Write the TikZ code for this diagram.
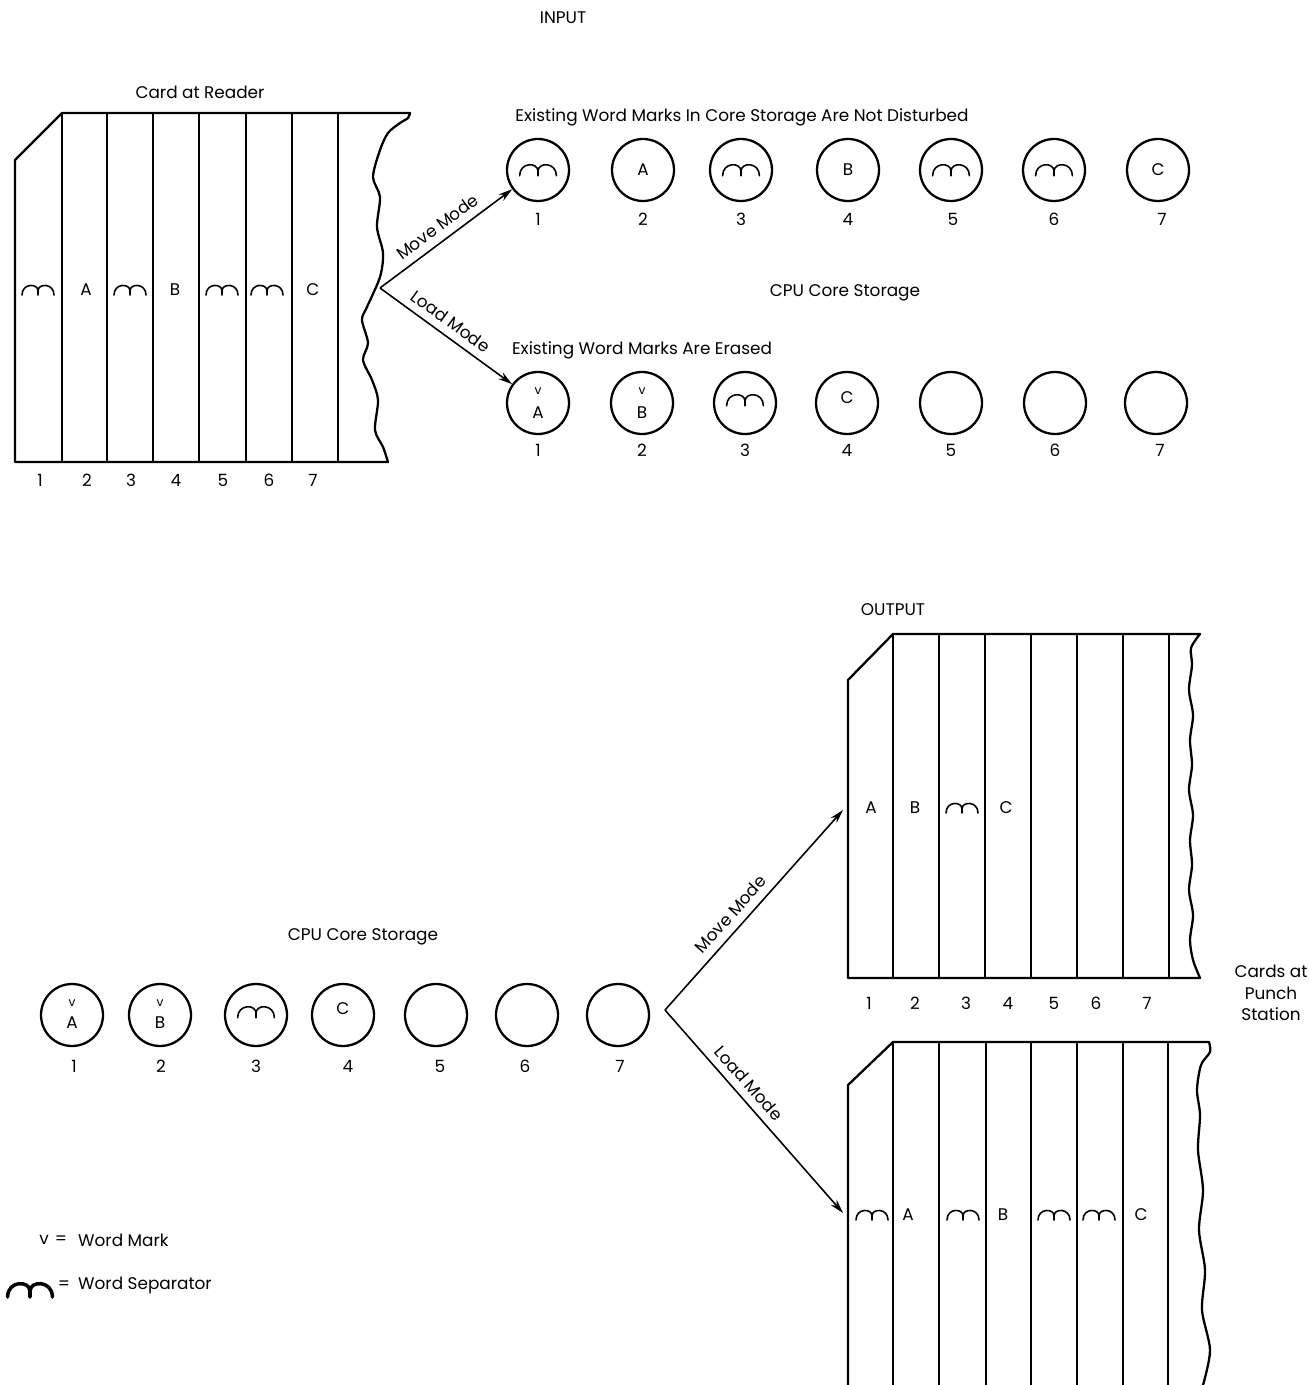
\documentclass[tikz,border=0pt]{standalone}
\usepackage{fontspec}
\setmainfont{Poppins}
\usetikzlibrary{arrows.meta}

\tikzset{
  card/.style={line width=1.3pt,line join=round},
  cell/.style={circle,draw,line width=1.3pt,minimum size=1.24cm,inner sep=0pt},
  flow/.style={line width=0.9pt,-{Stealth[length=8pt,width=4.5pt]}},
  wm/.style={font=\fontsize{7}{7}\selectfont,inner sep=0pt},
  sepline/.style={line width=0.9pt,line cap=round},
  wsep/.pic={\draw[sepline] (-16,5) .. controls (-16,-7) and (0,-7) .. (0,1) -- (0,5) (0,1) .. controls (0,-7) and (16,-7) .. (16,5);}
}

\begin{document}
\begin{tikzpicture}[x=0.02cm,y=-0.02cm,font=\fontsize{9.6}{12.2}\selectfont]
\useasboundingbox (0,0) rectangle (1309,1385);

% input
\node (input) at (563,18) {INPUT};
\node (reader) at (200,92) {Card at Reader};
\draw[card] (62,113) -- (15,160) -- (15,462) -- (388,462) -- plot[smooth] coordinates {(388,462) (383,447) (375,430) (378,400) (372,380) (363,360) (368,343) (362,320) (367,307) (380,277) (383,253) (377,227) (380,197) (373,177) (380,150) (388,133) (400,123) (408,118) (410,113)} -- cycle;
\foreach \x in {62,107,153,199,246,292,338} \draw[card] (\x,113) -- (\x,462);
\foreach \x [count=\i] in {40,87,131,176,223,269,313} \node (rn\i) at (\x,480) {\i};
\foreach \x/\t [count=\i] in {86/A,175/B,313/C} \node (rc\i) at (\x,290) {\t};
\foreach \x in {38,130,222,267} \pic at (\x,290) {wsep};

% core storage, move mode
\node (keep) at (742,117) {Existing Word Marks In Core Storage Are Not Disturbed};
\foreach \x [count=\i] in {538,643,741,848,951,1054,1158} \node[cell] (m\i) at (\x,170) {};
\foreach \x [count=\i] in {538,643,741,848,953,1054,1162} \node (mn\i) at (\x,219) {\i};
\foreach \i/\t in {2/A,4/B,7/C} \node (mc\i) at (m\i.center) {\t};
\foreach \i in {1,3,5,6} \pic[scale=1.15] at (m\i.center) {wsep};
\node (cpu) at (845,293) {CPU Core Storage};

% core storage, load mode
\node (erase) at (642,350) {Existing Word Marks Are Erased};
\foreach \x [count=\i] in {538,642,745,847,951,1055,1156} \node[cell] (l\i) at (\x,403) {};
\foreach \x [count=\i] in {538,642,745,847,951,1055,1160} \node (ln\i) at (\x,450) {\i};
\node[wm] (lv1) at (538,391) {v}; \node (lc1) at (538,413) {A};
\node[wm] (lv2) at (642,391) {v}; \node (lc2) at (642,413) {B};
\pic[scale=1.15] at (745,400) {wsep};
\node (lc4) at (847,398) {C};

\coordinate (split) at (380,288);
\draw[flow] (split) -- node[above=1pt,sloped,pos=0.5] {Move Mode} (m1);
\draw[flow] (split) -- node[above=1pt,sloped,pos=0.47] {Load Mode} (l1);

% output
\node (output) at (893,610) {OUTPUT};
\draw[card] (893,634) -- (848,680) -- (848,978) -- (1200,978) -- plot[smooth] coordinates {(1200,978) (1193,960) (1190,940) (1193,915) (1189,890) (1192,865) (1190,840) (1193,815) (1189,790) (1192,765) (1190,740) (1193,715) (1189,690) (1192,665) (1191,648) (1200,634)} -- cycle;
\foreach \x in {893,939,985,1031,1077,1123,1169} \draw[card] (\x,634) -- (\x,978);
\foreach \x/\t [count=\i] in {871/A,915/B,1006/C} \node (pc\i) at (\x,808) {\t};
\pic at (962,808) {wsep};
\foreach \x [count=\i] in {869,915,966,1008,1054,1096,1147} \node (pn\i) at (\x,1003) {\i};
\node[align=center] (punch) at (1271,993) {Cards at\\Punch\\Station};

\draw[card] (1203,1385) -- plot[smooth] coordinates {(1203,1385) (1210,1350) (1202,1310) (1205,1270) (1199,1230) (1203,1190) (1198,1150) (1200,1115) (1197,1090) (1201,1065) (1210,1052) (1209,1042)} -- (893,1042) -- (848,1085) -- (848,1385);
\foreach \x in {893,939,986,1031,1077,1123,1168} \draw[card] (\x,1042) -- (\x,1385);
\foreach \x/\t [count=\i] in {908/A,1003/B,1141/C} \node (qc\i) at (\x,1215) {\t};
\foreach \x in {872,963,1054,1099} \pic at (\x,1215) {wsep};

% core storage before output
\node (cpu2) at (363,937) {CPU Core Storage};
\foreach \x [count=\i] in {72,160,256,343,436,527,618} \node[cell] (s\i) at (\x,1015) {};
\foreach \x [count=\i] in {74,161,256,348,440,525,620} \node (sn\i) at (\x,1066) {\i};
\node[wm] (sv1) at (72,1003) {v}; \node (sc1) at (72,1023) {A};
\node[wm] (sv2) at (160,1003) {v}; \node (sc2) at (160,1023) {B};
\pic[scale=1.15] at (256,1012) {wsep};
\node (sc4) at (343,1009) {C};

\coordinate (split2) at (665,1010);
\coordinate (punchmove) at (843,810);
\coordinate (punchload) at (843,1213);
\draw[flow] (split2) -- node[above=1pt,sloped,pos=0.43] {Move Mode} (punchmove);
\draw[flow] (split2) -- node[above=1pt,sloped,pos=0.41] {Load Mode} (punchload);

% legend
\node (keyv) at (44,1240) {v};
\node (keyeq) at (61,1240) {=};
\node[anchor=west] (keymark) at (72,1240) {Word Mark};
\pic[scale=1.4,sepline/.append style={line width=2pt}] at (30,1290) {wsep};
\node (keyeq2) at (64,1285) {=};
\node[anchor=west] (keysep) at (72,1285) {Word Separator};
\end{tikzpicture}
\end{document}
